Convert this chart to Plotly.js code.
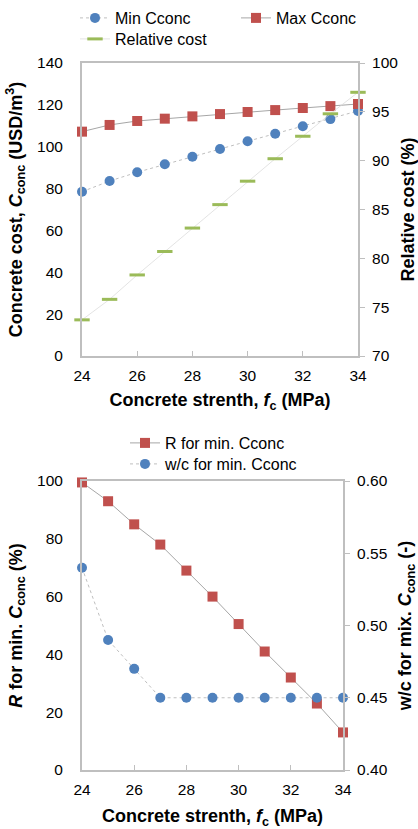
<!DOCTYPE html>
<html>
<head>
<meta charset="utf-8">
<script src="https://cdn.plot.ly/plotly-3.0.1.min.js"></script>
<style>html,body{margin:0;padding:0;background:#fff;}#chart{width:418px;height:829px;}</style>
</head>
<body>
<div id="chart"></div>
<script>
// ---- Data ----
var fc = [24, 25, 26, 27, 28, 29, 30, 31, 32, 33, 34];
var minCconc = [78.5, 83.6, 87.8, 91.6, 95.2, 98.9, 102.6, 106.2, 109.8, 113.2, 117.1];
var maxCconc = [107.2, 110.4, 112.3, 113.4, 114.5, 115.6, 116.6, 117.5, 118.5, 119.4, 120.4];
var relCost = [73.7, 75.8, 78.3, 80.7, 83.1, 85.5, 87.9, 90.2, 92.5, 94.8, 97.0];
var rMinC = [99.5, 93, 85, 78, 69, 60, 50.5, 41, 32, 23, 13];
var wcMinC = [0.54, 0.49, 0.47, 0.45, 0.45, 0.45, 0.45, 0.45, 0.45, 0.45, 0.45];

var blue = '#4F81BD', red = '#C0504D', green = '#9BBB59';
var FONT = 'Liberation Sans, Arial, sans-serif';

var traces = [
  {x: fc, y: minCconc, name: 'Min Cconc', type: 'scatter', mode: 'lines+markers',
   xaxis: 'x', yaxis: 'y', legend: 'legend', cliponaxis: false,
   line: {color: '#BFBFBF', width: 1, dash: 'dot'},
   marker: {color: blue, size: 10, symbol: 'circle'}},
  {x: fc, y: maxCconc, name: 'Max Cconc', type: 'scatter', mode: 'lines+markers',
   xaxis: 'x', yaxis: 'y', legend: 'legend', cliponaxis: false,
   line: {color: '#A6A6A6', width: 1},
   marker: {color: red, size: 10, symbol: 'square'}},
  {x: fc, y: relCost, name: 'Relative cost', type: 'scatter', mode: 'lines+markers',
   xaxis: 'x', yaxis: 'y2', legend: 'legend3', cliponaxis: false,
   line: {color: '#D9D9D9', width: 0.75},
   marker: {color: green, size: 11, symbol: 'line-ew', line: {color: green, width: 3}}},
  {x: fc, y: rMinC, name: 'R for min. Cconc', type: 'scatter', mode: 'lines+markers',
   xaxis: 'x2', yaxis: 'y3', legend: 'legend2', cliponaxis: false,
   line: {color: '#A6A6A6', width: 1},
   marker: {color: red, size: 10, symbol: 'square'}},
  {x: fc, y: wcMinC, name: 'w/c for min. Cconc', type: 'scatter', mode: 'lines+markers',
   xaxis: 'x2', yaxis: 'y4', legend: 'legend4', cliponaxis: false,
   line: {color: '#BFBFBF', width: 1, dash: 'dot'},
   marker: {color: blue, size: 10, symbol: 'circle'}}
];

var axLine = '#BFBFBF';
var tickFont = {family: FONT, size: 15.5, color: '#000'};
var titleFont = {family: FONT, size: 18, color: '#000', weight: 'bold'};

function xax(domain, anchor, standoff) {
  return {domain: domain, anchor: anchor, range: [24, 34], dtick: 2, tick0: 24,
    showline: true, linecolor: axLine, linewidth: 2, mirror: true,
    ticks: 'inside', ticklen: 5, tickcolor: axLine, tickwidth: 1,
    ticklabelstandoff: 4,
    showgrid: false, zeroline: false, tickfont: tickFont,
    title: {text: 'Concrete strenth, <i>f</i><sub>c</sub> (MPa)', font: titleFont, standoff: standoff}};
}
function yax(domain, anchor, range, dtick, title, side, overlaying, fmt, standoff) {
  var right = side === 'right';
  var a = {domain: domain, anchor: anchor, range: range, dtick: dtick,
    showline: true, linecolor: axLine, linewidth: 2,
    showgrid: false, zeroline: false, tickfont: tickFont,
    ticks: right ? 'outside' : '', ticklen: 5, tickcolor: axLine, tickwidth: 1,
    ticklabelstandoff: right ? 4 : 14,
    title: {text: title, font: titleFont, standoff: standoff}, side: side || 'left'};
  if (overlaying) a.overlaying = overlaying;
  if (fmt) a.tickformat = fmt;
  return a;
}

var topDomY = [(829 - 356) / 829, (829 - 63) / 829];
var botDomY = [(829 - 770) / 829, (829 - 481) / 829];

function leg(xpx, ypx, orient) {
  var l = {x: xpx / 418, y: 1 - ypx / 829, xanchor: 'left', yanchor: 'top',
    orientation: orient || 'v', font: {family: FONT, size: 16, color: '#000'},
    bgcolor: 'rgba(0,0,0,0)', itemwidth: 30};
  if (orient === 'h') { l.entrywidth = 116; l.entrywidthmode = 'pixels'; }
  return l;
}

var layout = {
  width: 418, height: 829,
  margin: {l: 0, r: 0, t: 0, b: 0},
  paper_bgcolor: '#fff', plot_bgcolor: 'rgba(0,0,0,0)',
  font: {family: FONT, color: '#000'},
  showlegend: true,
  xaxis: xax([82 / 418, 358 / 418], 'y', 11),
  yaxis: yax(topDomY, 'x', [0, 140], 20, 'Concrete cost, <i>C</i><sub>conc</sub> (USD/m<sup>3</sup>)', 'left', null, null, 10),
  yaxis2: yax(topDomY, 'x', [70, 100], 5, 'Relative cost (%)', 'right', 'y', null, 10),
  xaxis2: xax([82 / 418, 343 / 418], 'y3', 14),
  yaxis3: yax(botDomY, 'x2', [0, 100], 20, '<i>R</i> for min. <i>C</i><sub>conc</sub> (%)', 'left', null, null, 10),
  yaxis4: yax(botDomY, 'x2', [0.40, 0.60], 0.05, 'w/c for mix. <i>C</i><sub>conc</sub> (-)', 'right', 'y3', '.2f', 16),
  legend: leg(75, 1, 'h'),
  legend3: leg(75, 22),
  legend2: leg(125, 426),
  legend4: leg(125, 447)
};

Plotly.newPlot('chart', traces, layout, {staticPlot: true, displayModeBar: false});
</script>
</body>
</html>
